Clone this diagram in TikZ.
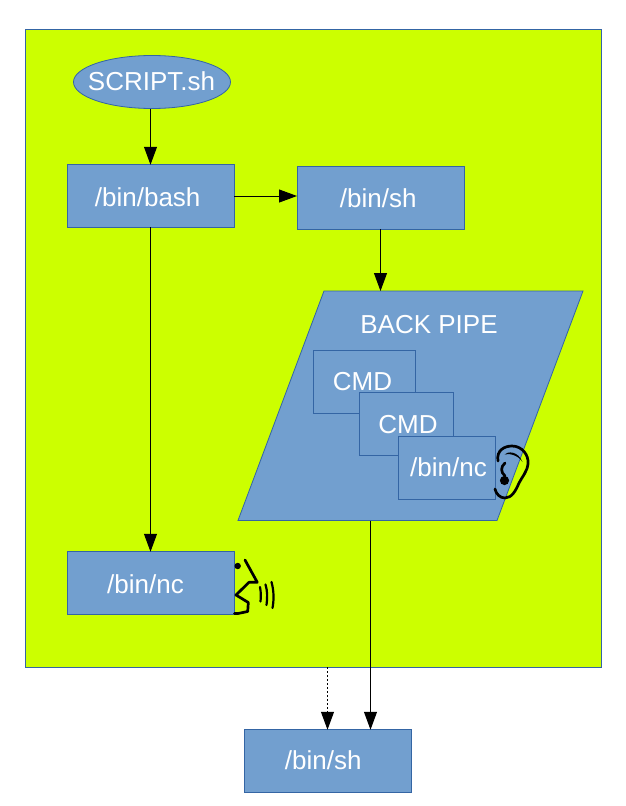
\documentclass[tikz,border=0pt]{standalone}
\usepackage{fontspec}
\setmainfont{Liberation Sans}
\usetikzlibrary{arrows.meta,shapes.geometric,calc}
\definecolor{panel}{HTML}{CCFF00}
\definecolor{boxfill}{HTML}{729FCF}
\definecolor{boxline}{HTML}{3465A4}
\tikzset{
  x=1pt,y=-1pt,
  boxshape/.style={draw=boxline,fill=boxfill,line width=0.8pt,inner sep=0pt,outer sep=0pt},
  pbox/.style={boxshape,rectangle},
  txt/.style={text=white,font=\fontsize{26}{30}\selectfont,inner sep=0pt},
  conn/.style={draw=black,line width=1pt,-{Triangle[length=18pt,width=13pt]}},
  glyph/.style={draw=black,line width=2.7pt,line cap=round,line join=round},
}
\begin{document}
\begin{tikzpicture}
\useasboundingbox (0,0) rectangle (626,806);
\fill[white] (0,0) rectangle (626,806);
\node[pbox,fill=panel,minimum width=576pt,minimum height=638pt] (panel) at (313,348) {};
\node[boxshape,ellipse,minimum width=157pt,minimum height=53pt] (script) at (152,82) {};
\node[txt] (scripttext) at (151.5,81.5) {SCRIPT.sh};
\node[pbox,minimum width=167pt,minimum height=62.5pt] (bash) at (150.5,196) {};
\node[txt] (bashtext) at (147.7,197) {/bin/bash};
\node[pbox,minimum width=167pt,minimum height=62.5pt] (sh) at (380.5,198) {};
\node[txt] (shtext) at (378.2,198.5) {/bin/sh};
\coordinate (pa) at (324,291);
\coordinate (pb) at (583,291);
\coordinate (pc) at (497,520.5);
\coordinate (pd) at (238,520.5);
\coordinate (pipein) at (380.5,291);
\coordinate (pipeout) at (370.5,520.5);
\draw[boxshape] (pa) -- (pb) -- (pc) -- (pd) -- cycle;
\node[txt] (pipetext) at (429,324.5) {BACK PIPE};
\node[pbox,minimum width=102pt,minimum height=63pt] (cmda) at (364,381.5) {};
\node[txt] (cmdatext) at (362.5,381.5) {CMD};
\node[pbox,minimum width=94pt,minimum height=63pt] (cmdb) at (406.5,424) {};
\node[txt] (cmdbtext) at (408,424.5) {CMD};
\node[pbox,minimum width=97pt,minimum height=63pt] (ncb) at (446.5,467.5) {};
\node[txt] (ncbtext) at (448.5,467.5) {/bin/nc};
\node[pbox,minimum width=167pt,minimum height=62.5pt] (nca) at (150.5,583) {};
\node[txt] (ncatext) at (145.5,584.5) {/bin/nc};
\node[pbox,minimum width=167pt,minimum height=62.5pt] (shb) at (327.5,761) {};
\node[txt] (shbtext) at (323.2,760.5) {/bin/sh};
% connectors
\draw[conn] (script.south -| bash.north) -- (bash.north);
\draw[conn] (bash.east) -- (bash.east -| sh.west);
\draw[conn] (sh.south -| pipein) -- (pipein);
\draw[conn] (bash.south) -- (nca.north);
\draw[conn] (pipeout) -- (pipeout |- shb.north);
\draw[conn,dash pattern=on 2pt off 2pt] (panel.south -| shb.north) -- (shb.north);
% ear
\draw[glyph] (498,461) .. controls (496,450) and (505,446) .. (512,446)
  .. controls (522,446) and (529,455) .. (528,464)
  .. controls (527,472) and (522,477) .. (519,483)
  .. controls (516,490) and (512,498) .. (505,498)
  .. controls (500,498) and (496,494) .. (495,489);
\fill[black] (504.5,454.5) .. controls (508,451) and (518,451) .. (522.5,462)
  .. controls (518,455) and (509,453) .. (504.5,454.5) -- cycle;
\draw[glyph] (505,463) .. controls (500.5,467) and (500.5,472) .. (505,476);
\fill[black] (504.5,480.5) circle (4.6pt);
% speaker
\fill[black] (237.7,566) circle (3.2pt);
\draw[glyph] (245,560) -- (257.3,582.3) -- (249,582.3) -- (236,595) -- (248.3,602.5)
  -- (247.7,611.5) -- (238,613.5) -- (234.5,613.5);
\draw[glyph,line width=2.2pt] (260,587) .. controls (261,592) and (261,597) .. (260.5,601.5);
\draw[glyph,line width=2.2pt] (265.5,584.5) .. controls (267.5,591) and (267.5,598) .. (266.5,605);
\draw[glyph,line width=2.2pt] (271.5,582) .. controls (274,591) and (274,600) .. (272.5,608);
\end{tikzpicture}
\end{document}
